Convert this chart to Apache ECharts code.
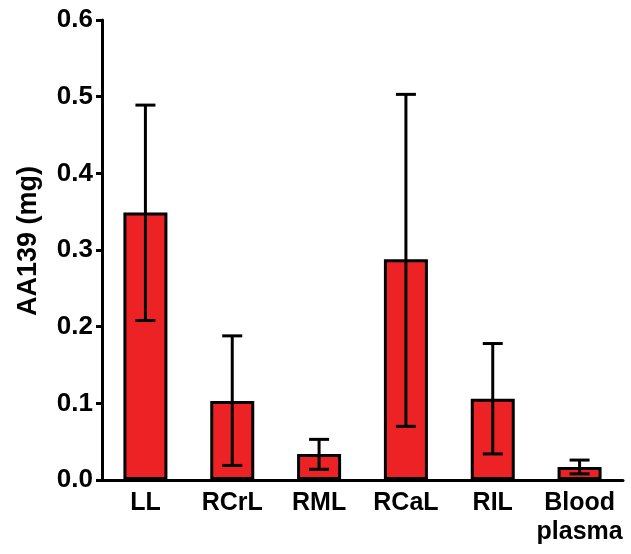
<!DOCTYPE html>
<html>
<head>
<meta charset="utf-8">
<script src="https://cdn.jsdelivr.net/npm/echarts@6/dist/echarts.min.js"></script>
<style>
  html, body { margin: 0; padding: 0; background: #fff; }
  #bar_chart { width: 631px; height: 554px; }
</style>
</head>
<body>
<div id="bar_chart"></div>
<script>
const categories = ['LL', 'RCrL', 'RML', 'RCaL', 'RIL', 'Blood\nplasma'];
const means = [0.349, 0.103, 0.034, 0.288, 0.106, 0.017];
const upper = [0.489, 0.188, 0.053, 0.503, 0.178, 0.026];
const lower = [0.208, 0.019, 0.014, 0.070, 0.034, 0.008];

const font = 'Liberation Sans, Arial, Helvetica, sans-serif';

const chartDom = document.getElementById('bar_chart');
const myChart = echarts.init(chartDom);

const errorData = categories.map(function (c, i) {
    return [i, lower[i], upper[i]];
});

const option = {
    animation: false,
    grid: {
        left: 102,
        right: 8,
        top: 20,
        bottom: 74,
        containLabel: false,
        outerBoundsMode: 'none'
    },
    xAxis: {
        type: 'category',
        data: categories,
        axisLine: { lineStyle: { color: '#000', width: 3 } },
        axisTick: { alignWithLabel: true, length: 6, lineStyle: { color: '#000', width: 3 } },
        axisLabel: {
            color: '#000',
            fontFamily: font,
            fontWeight: 'bold',
            fontSize: 25,
            lineHeight: 29,
            margin: 9,
            interval: 0
        }
    },
    yAxis: {
        type: 'value',
        min: 0,
        max: 0.6,
        interval: 0.1,
        name: 'AA139 (mg)',
        nameLocation: 'middle',
        nameGap: 60,
        nameTextStyle: {
            color: '#000',
            fontFamily: font,
            fontWeight: 'bold',
            fontSize: 27,
            padding: [0, 0, 0, 18]
        },
        splitLine: { show: false },
        axisLine: { show: true, lineStyle: { color: '#000', width: 3 } },
        axisTick: { show: true, length: 6, lineStyle: { color: '#000', width: 3 } },
        axisLabel: {
            color: '#000',
            fontFamily: font,
            fontWeight: 'bold',
            fontSize: 26,
            margin: 9,
            formatter: function (v) { return v.toFixed(1); }
        }
    },
    series: [
        {
            name: 'AA139',
            type: 'bar',
            barWidth: 44,
            data: means,
            itemStyle: {
                color: '#ED2224',
                borderColor: '#000',
                borderWidth: 3
            }
        },
        {
            type: 'custom',
            data: errorData,
            z: 5,
            renderItem: function (params, api) {
                const lo = api.coord([api.value(0), api.value(1)]);
                const hi = api.coord([api.value(0), api.value(2)]);
                const half = 10;
                const style = { stroke: '#000', lineWidth: 3 };
                return {
                    type: 'group',
                    children: [
                        { type: 'line', shape: { x1: hi[0], y1: hi[1], x2: lo[0], y2: lo[1] }, style: style },
                        { type: 'line', shape: { x1: hi[0] - half, y1: hi[1], x2: hi[0] + half, y2: hi[1] }, style: style },
                        { type: 'line', shape: { x1: lo[0] - half, y1: lo[1], x2: lo[0] + half, y2: lo[1] }, style: style }
                    ]
                };
            }
        }
    ]
};

option && myChart.setOption(option);
</script>
</body>
</html>
